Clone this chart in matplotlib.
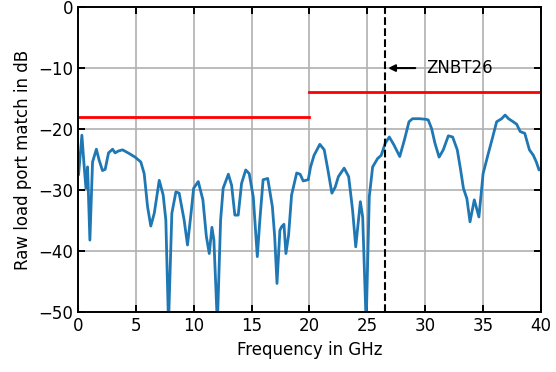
import matplotlib
matplotlib.use("Agg")
import matplotlib.pyplot as plt

# measured load port match (frequency in GHz, match in dB)
freq = [0.0, 0.06, 0.35, 0.55, 0.7, 0.84, 1.04, 1.27, 1.6, 1.84, 2.13, 2.36, 2.65, 3.0,
        3.22, 3.5, 3.86, 4.43, 4.95, 5.44, 5.73, 6.02, 6.3, 6.6, 7.03, 7.37, 7.6, 7.83,
        8.12, 8.47, 8.75, 9.18, 9.47, 9.76, 10.0, 10.4, 10.8, 11.1, 11.35, 11.58, 11.75,
        12.05, 12.33, 12.55, 13.0, 13.28, 13.56, 13.85, 14.14, 14.5, 14.8, 15.15, 15.5,
        15.72, 16.0, 16.4, 16.8, 17.0, 17.2, 17.45, 17.6, 17.8, 17.97, 18.2, 18.46, 18.9,
        19.2, 19.46, 19.9, 20.1, 20.4, 20.9, 21.28, 21.57, 21.94, 22.23, 22.5, 23.0, 23.39,
        23.73, 24.0, 24.4, 24.6, 24.9, 25.17, 25.46, 25.9, 26.2, 26.55, 26.9, 27.3, 27.8,
        28.2, 28.6, 28.9, 29.5, 30.07, 30.26, 30.55, 30.84, 31.2, 31.56, 32.0, 32.37, 32.77,
        33.06, 33.3, 33.6, 33.87, 34.24, 34.64, 35.0, 35.45, 35.83, 36.17, 36.6, 36.9, 37.2,
        37.6, 37.9, 38.2, 38.6, 39.0, 39.34, 39.6, 39.83, 40.0]
match = [-27.0, -27.5, -21.0, -26.2, -29.7, -26.2, -38.2, -25.4, -23.3, -25.1, -26.8, -26.6,
         -23.9, -23.3, -23.9, -23.6, -23.4, -24.0, -24.6, -25.4, -27.3, -32.7, -35.9, -33.8,
         -28.4, -30.8, -34.9, -52.0, -33.8, -30.3, -30.5, -34.9, -39.0, -34.1, -29.7, -28.6,
         -31.6, -37.6, -40.4, -36.1, -38.2, -52.0, -34.9, -29.7, -27.4, -29.2, -34.1, -34.1,
         -28.9, -26.7, -27.3, -31.1, -40.9, -34.9, -28.3, -28.1, -32.7, -37.6, -45.3, -36.6,
         -36.0, -35.6, -40.4, -37.4, -30.8, -27.2, -27.4, -28.5, -28.3, -26.2, -24.3, -22.5,
         -23.4, -26.4, -30.5, -29.5, -27.8, -26.4, -27.8, -33.3, -39.3, -31.9, -34.4, -52.0,
         -31.1, -26.2, -24.8, -24.3, -22.3, -21.3, -22.6, -24.5, -21.8, -18.8, -18.3, -18.3,
         -18.4, -18.5, -19.9, -22.3, -24.6, -23.4, -21.1, -21.3, -23.4, -26.7, -29.7, -31.4,
         -35.2, -31.6, -34.4, -27.3, -24.0, -21.3, -18.8, -18.3, -17.7, -18.3, -18.8, -19.2,
         -20.4, -20.7, -23.4, -24.3, -25.4, -26.7, -26.4]

# spec limits
spec_f = [0, 20, 20, 40]
spec_db = [-18, -18, -14, -14]
znbt_f = 26.5

fig = plt.figure(figsize=(5.56, 3.72), dpi=100)
ax = fig.add_axes([0.140, 0.161, 0.833, 0.820])

ax.plot(freq, match, color="tab:blue", lw=2)
ax.plot(spec_f[:2], spec_db[:2], color="red", lw=2)
ax.plot(spec_f[2:], spec_db[2:], color="red", lw=2)
ax.axvline(znbt_f, color="black", ls="--", lw=1.5)
ax.annotate("ZNBT26", xy=(znbt_f + 0.3, -10), xytext=(30.1, -10),
            fontsize=12, va="center",
            arrowprops=dict(arrowstyle="-|>", color="black", lw=1.5,
                            mutation_scale=10, shrinkA=6, shrinkB=0))

ax.set_xlim(0, 40)
ax.set_ylim(-50, 0)
ax.set_xticks(range(0, 41, 5))
ax.set_yticks(range(-50, 1, 10))
ax.grid(True, color="#b0b0b0", lw=1.2)
for s in ax.spines.values():
    s.set_linewidth(1.4)
ax.tick_params(direction="in", top=True, right=True, labelsize=12, length=5, width=1.4)
ax.set_xlabel("Frequency in GHz", fontsize=12)
ax.set_ylabel("Raw load port match in dB", fontsize=12)

fig.savefig("out.png", dpi=100)
